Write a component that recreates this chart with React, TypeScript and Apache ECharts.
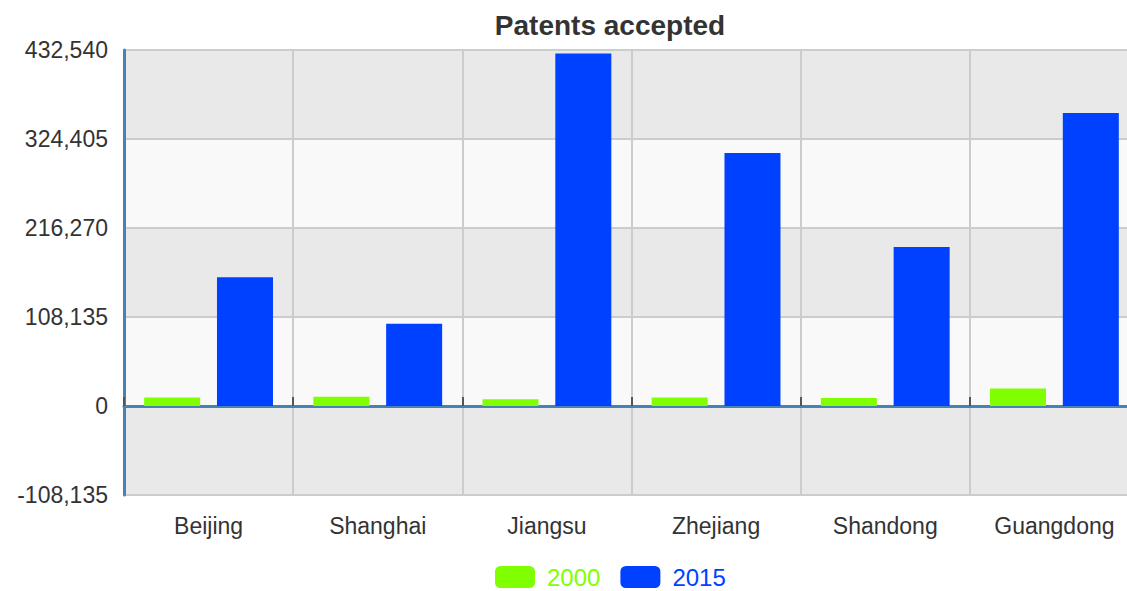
import React, { useEffect, useRef } from "react";
import * as echarts from "echarts";

const categories = ["Beijing", "Shanghai", "Jiangsu", "Zhejiang", "Shandong", "Guangdong"];
const values2000 = [10344, 11337, 8211, 10316, 9725, 21123];
const values2015 = [156312, 100006, 428337, 307264, 193220, 355939];
const yMin = -108135;
const yMax = 432540;
const yInterval = 108135;

const FONT = "'Liberation Sans', Arial, Helvetica, sans-serif";

export default function App() {
  const ref = useRef<HTMLDivElement>(null);
  useEffect(() => {
    if (!ref.current) return;
    const chart = echarts.init(ref.current, undefined, { renderer: "svg" });
    chart.setOption({
      animation: false,
      textStyle: { fontFamily: FONT },
      title: {
        text: "Patents accepted",
        left: 605,
        textAlign: "center",
        top: 6,
        textStyle: { fontFamily: FONT, fontSize: 28, fontWeight: "bold", color: "#333" },
      },
      legend: {
        top: 565,
        left: 495,
        itemWidth: 40,
        itemHeight: 22,
        itemGap: 20,
        padding: 0,
        icon: "roundRect",
        data: [
          { name: "2000", textStyle: { color: "#7fff00" } },
          { name: "2015", textStyle: { color: "#0040ff" } },
        ],
        textStyle: { fontFamily: FONT, fontSize: 24, padding: [0, 0, 0, 7] },
      },
      grid: { left: 124, top: 50, width: 1015, height: 445, containLabel: false },
      xAxis: [
        {
          type: "category",
          data: categories,
          position: "bottom",
          axisLine: { show: false, onZero: false },
          axisTick: { show: false },
          axisLabel: { color: "#333", fontSize: 23, margin: 19, fontFamily: FONT },
          splitLine: { show: true, lineStyle: { color: "#cccccc", width: 2 } },
        },
        {
          type: "category",
          data: categories,
          position: "bottom",
          axisLine: { show: true, onZero: true, lineStyle: { color: "#4682b4", width: 3 } },
          axisTick: { show: true, inside: true, length: 9, lineStyle: { color: "#555", width: 2 } },
          axisLabel: { show: false },
          splitLine: { show: false },
        },
      ],
      yAxis: {
        type: "value",
        min: yMin,
        max: yMax,
        interval: yInterval,
        axisLine: { show: true, lineStyle: { color: "#4682b4", width: 3 } },
        axisTick: { show: false },
        axisLabel: {
          color: "#333",
          fontSize: 23,
          margin: 16,
          fontFamily: FONT,
          formatter: (v: number) => v.toLocaleString("en-US"),
        },
        splitLine: { show: true, lineStyle: { color: "#cccccc", width: 2 } },
        splitArea: { show: true, areaStyle: { color: ["#e9e9e9", "#f9f9f9"] } },
      },
      series: [
        {
          name: "2000",
          type: "bar",
          xAxisIndex: 0,
          data: values2000,
          barWidth: 56,
          barGap: "30%",
          itemStyle: { color: "#7fff00" },
        },
        {
          name: "2015",
          type: "bar",
          xAxisIndex: 0,
          data: values2015,
          barWidth: 56,
          barGap: "30%",
          itemStyle: { color: "#0040ff" },
        },
      ],
    });
    return () => chart.dispose();
  }, []);
  return (
    <div style={{ position: "fixed", left: 0, top: 0, width: 1127, height: 591, overflow: "hidden", background: "#fff" }}>
      <div ref={ref} style={{ position: "absolute", left: 0, top: 0, width: 1140, height: 591 }} />
    </div>
  );
}
